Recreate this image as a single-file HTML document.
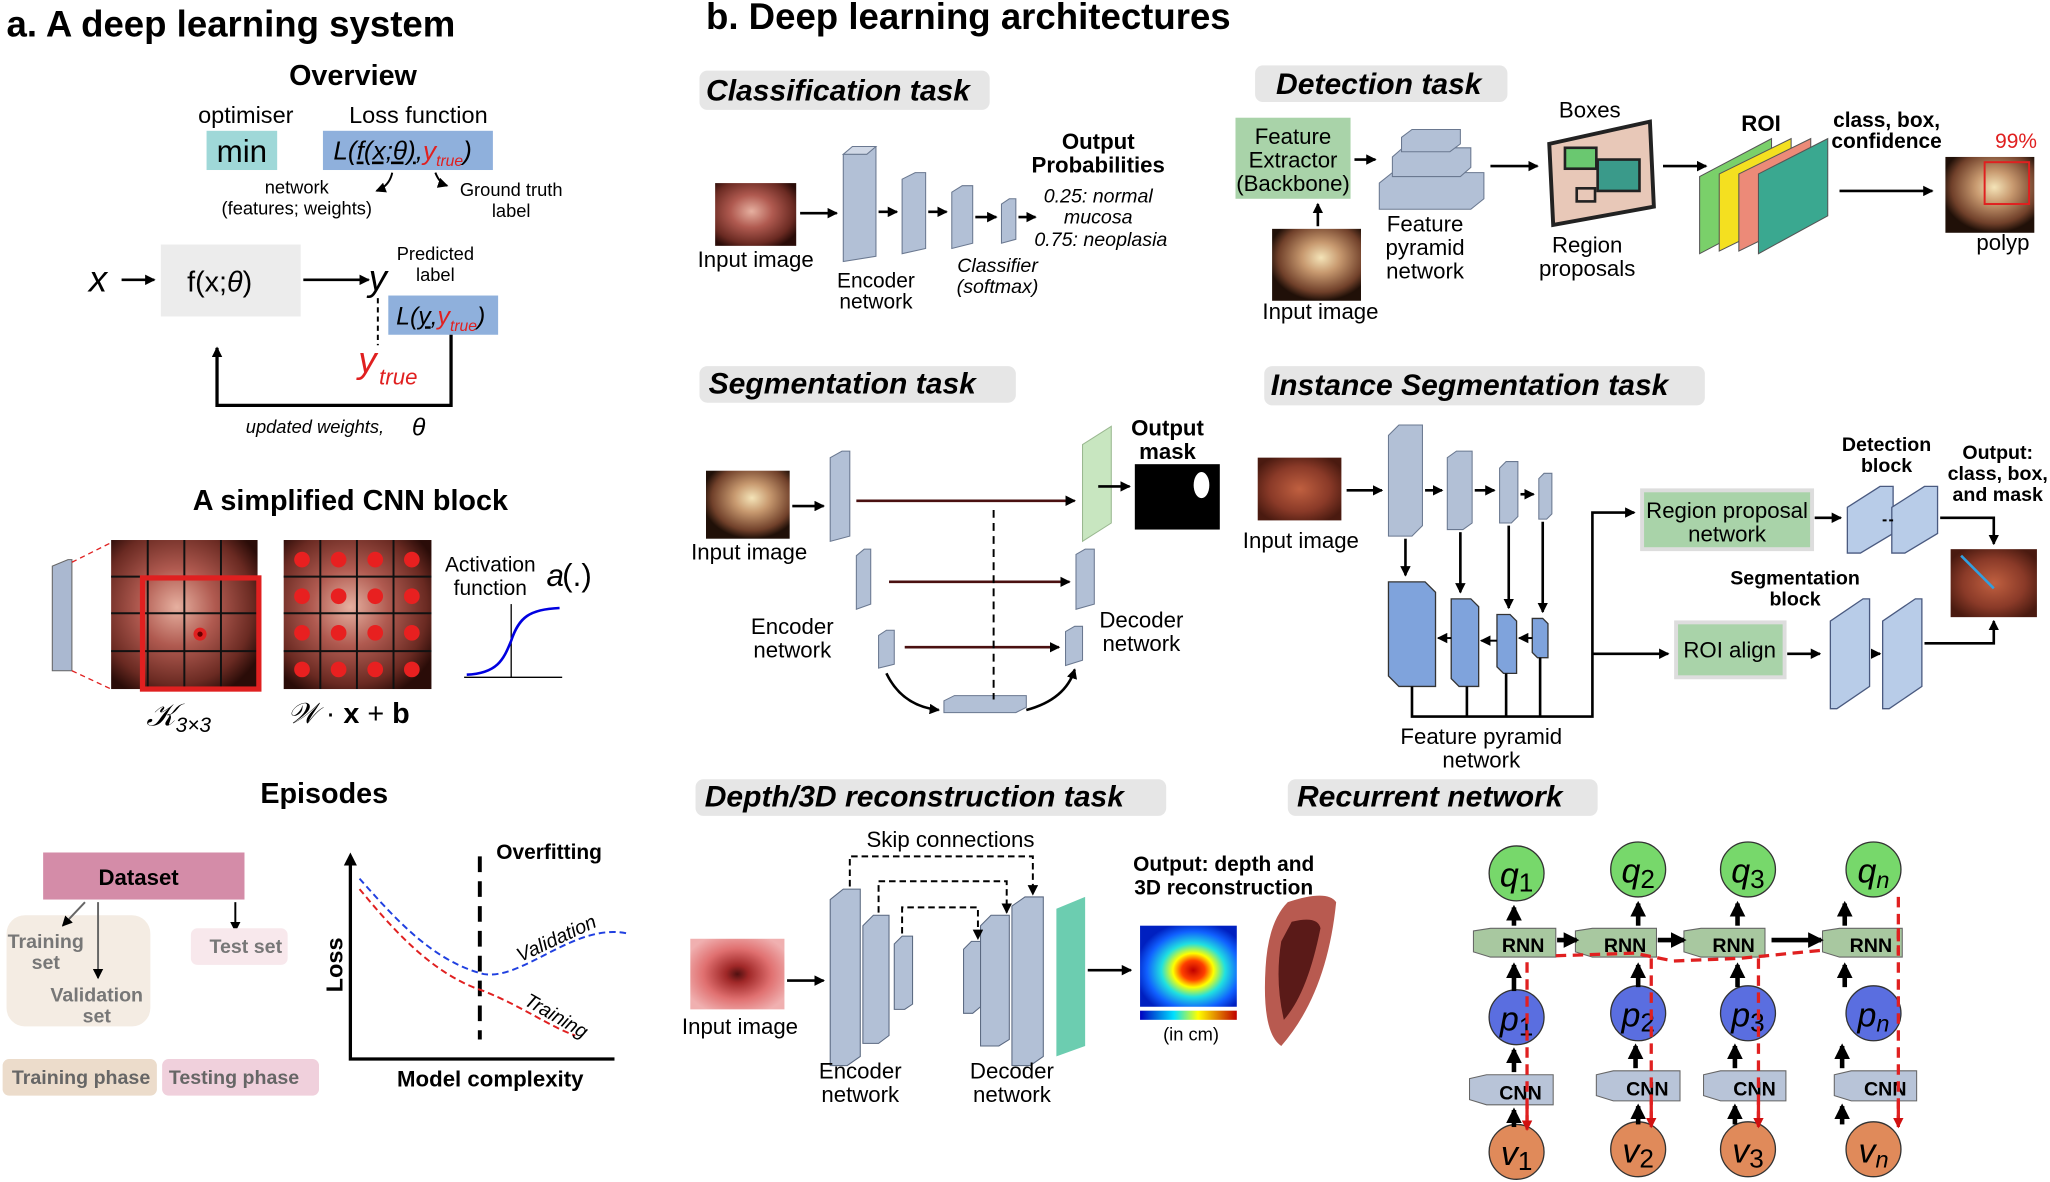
<!DOCTYPE html>
<html><head><meta charset="utf-8"><style>
html,body{margin:0;padding:0;background:#fff;width:2050px;height:1182px;overflow:hidden}
svg{display:block}
text{font-family:"Liberation Sans",sans-serif}
.b{font-weight:bold}
.lab{font-weight:bold;font-style:italic;font-size:23px}
.s{font-size:16px}
.m{font-size:17px}
</style></head><body>
<svg width="2050" height="1182" viewBox="0 0 1568 904" xmlns="http://www.w3.org/2000/svg">
<defs>
<marker id="ar" markerWidth="8" markerHeight="8" refX="7" refY="4" orient="auto" markerUnits="userSpaceOnUse"><path d="M0,0 L8,4 L0,8 z" fill="#000"/></marker>
<marker id="arr" markerWidth="8" markerHeight="8" refX="7" refY="4" orient="auto" markerUnits="userSpaceOnUse"><path d="M0,0 L8,4 L0,8 z" fill="#d01010"/></marker>
<marker id="ab" markerWidth="12" markerHeight="12" refX="10" refY="6" orient="auto" markerUnits="userSpaceOnUse"><path d="M0,0 L12,6 L0,12 z" fill="#000"/></marker>
<radialGradient id="endo" cx="45%" cy="45%" r="65%"><stop offset="0" stop-color="#e6b0a0"/><stop offset="0.4" stop-color="#b05a50"/><stop offset="0.8" stop-color="#6a2a22"/><stop offset="1" stop-color="#2a0c08"/></radialGradient>
<radialGradient id="endo2" cx="55%" cy="40%" r="60%"><stop offset="0" stop-color="#f4e4b8"/><stop offset="0.35" stop-color="#c89a70"/><stop offset="0.8" stop-color="#70402a"/><stop offset="1" stop-color="#201008"/></radialGradient>
<radialGradient id="endo3" cx="50%" cy="50%" r="60%"><stop offset="0" stop-color="#501010"/><stop offset="0.2" stop-color="#a02828"/><stop offset="0.6" stop-color="#e07070"/><stop offset="1" stop-color="#f0b0b0"/></radialGradient>
<radialGradient id="surg" cx="50%" cy="50%" r="60%"><stop offset="0" stop-color="#c06040"/><stop offset="0.6" stop-color="#8a3a28"/><stop offset="1" stop-color="#4a1a10"/></radialGradient>
<radialGradient id="depth" cx="55%" cy="55%" r="60%"><stop offset="0" stop-color="#c00000"/><stop offset="0.2" stop-color="#ff4000"/><stop offset="0.35" stop-color="#ffff00"/><stop offset="0.55" stop-color="#20e0e0"/><stop offset="0.8" stop-color="#1060ff"/><stop offset="1" stop-color="#0020c0"/></radialGradient>
<linearGradient id="cbar" x1="0" x2="1"><stop offset="0" stop-color="#0000c0"/><stop offset="0.35" stop-color="#00e0ff"/><stop offset="0.6" stop-color="#ffff00"/><stop offset="1" stop-color="#c00000"/></linearGradient>
</defs>

<!-- ===== Panel a ===== -->
<text x="5" y="28" class="b" font-size="28">a. A deep learning system</text>
<text x="270" y="65" class="b" font-size="22" text-anchor="middle">Overview</text>
<text x="188" y="94" font-size="18" text-anchor="middle">optimiser</text>
<text x="320" y="94" font-size="18" text-anchor="middle">Loss function</text>
<rect x="158" y="100" width="54" height="30" fill="#9fd8d8"/>
<text x="185" y="124" font-size="24" text-anchor="middle">min</text>
<rect x="247" y="100" width="130" height="30" fill="#8fb0dc"/>
<text x="255" y="122" font-size="20" font-style="italic">L(<tspan text-decoration="underline">f(x;θ)</tspan>,<tspan fill="#e02020">y</tspan><tspan fill="#e02020" font-size="12" dy="5">true</tspan><tspan dy="-5">)</tspan></text>
<path d="M300,132 Q298,142 288,146" fill="none" stroke="#000" stroke-width="1.5" marker-end="url(#ar)"/>
<path d="M333,132 Q336,140 342,142" fill="none" stroke="#000" stroke-width="1.5" marker-end="url(#ar)"/>
<text x="227" y="148" font-size="14" text-anchor="middle">network</text>
<text x="227" y="164" font-size="14" text-anchor="middle">(features; weights)</text>
<text x="391" y="150" font-size="14" text-anchor="middle">Ground truth</text>
<text x="391" y="166" font-size="14" text-anchor="middle">label</text>
<text x="68" y="223" font-size="28" font-style="italic">x</text>
<line x1="93" y1="214" x2="118" y2="214" stroke="#000" stroke-width="2" marker-end="url(#ar)"/>
<rect x="123" y="187" width="107" height="55" fill="#ececec"/>
<text x="168" y="223" font-size="22" text-anchor="middle">f(x;<tspan font-style="italic">θ</tspan>)</text>
<line x1="232" y1="214" x2="282" y2="214" stroke="#000" stroke-width="2" marker-end="url(#ar)"/>
<text x="282" y="222" font-size="28" font-style="italic">y</text>
<text x="333" y="199" font-size="14" text-anchor="middle">Predicted</text>
<text x="333" y="215" font-size="14" text-anchor="middle">label</text>
<rect x="297" y="226" width="84" height="30" fill="#8fb0dc"/>
<text x="303" y="248" font-size="19" font-style="italic">L(<tspan text-decoration="underline">y</tspan>,<tspan fill="#e02020">y</tspan><tspan fill="#e02020" font-size="12" dy="5">true</tspan><tspan dy="-5">)</tspan></text>
<line x1="289" y1="228" x2="289" y2="264" stroke="#000" stroke-width="1.5" stroke-dasharray="4,3"/>
<text x="274" y="285" font-size="28" font-style="italic" fill="#e02020">y</text>
<text x="290" y="294" font-size="17" font-style="italic" fill="#e02020">true</text>
<polyline points="345,256 345,310 166,310 166,266" fill="none" stroke="#000" stroke-width="2.5" marker-end="url(#ar)"/>
<text x="188" y="331" font-size="14" font-style="italic">updated weights,</text>
<text x="315" y="333" font-size="19" font-style="italic">θ</text>

<!-- CNN block -->
<text x="268" y="390" class="b" font-size="22" text-anchor="middle">A simplified CNN block</text>
<polygon points="40,433 52,428 55,428 55,513 40,513" fill="#aab8d0" stroke="#666" stroke-width="0.8"/>
<line x1="55" y1="430" x2="85" y2="415" stroke="#e02020" stroke-dasharray="4,3"/>
<line x1="55" y1="513" x2="85" y2="527" stroke="#e02020" stroke-dasharray="4,3"/>
<rect x="85" y="413" width="112" height="114" fill="url(#endo)"/>
<g stroke="#111" stroke-width="1.5">
<line x1="113" y1="413" x2="113" y2="527"/><line x1="141" y1="413" x2="141" y2="527"/><line x1="169" y1="413" x2="169" y2="527"/>
<line x1="85" y1="441" x2="197" y2="441"/><line x1="85" y1="469" x2="197" y2="469"/><line x1="85" y1="498" x2="197" y2="498"/>
</g>
<rect x="109" y="442" width="89" height="85" fill="none" stroke="#e02020" stroke-width="4"/>
<circle cx="153" cy="485" r="5" fill="#e02020"/><circle cx="153" cy="485" r="2" fill="#600"/>
<rect x="217" y="413" width="113" height="114" fill="url(#endo)"/>
<g stroke="#111" stroke-width="1.5">
<line x1="245" y1="413" x2="245" y2="527"/><line x1="273" y1="413" x2="273" y2="527"/><line x1="301" y1="413" x2="301" y2="527"/>
<line x1="217" y1="441" x2="330" y2="441"/><line x1="217" y1="469" x2="330" y2="469"/><line x1="217" y1="498" x2="330" y2="498"/>
</g>
<g fill="#e82020" stroke="#fff" stroke-width="0">
<circle cx="231" cy="428" r="6"/><circle cx="259" cy="428" r="6"/><circle cx="287" cy="428" r="6"/><circle cx="315" cy="428" r="6"/>
<circle cx="231" cy="456" r="6"/><circle cx="259" cy="456" r="6"/><circle cx="287" cy="456" r="6"/><circle cx="315" cy="456" r="6"/>
<circle cx="231" cy="484" r="6"/><circle cx="259" cy="484" r="6"/><circle cx="287" cy="484" r="6"/><circle cx="315" cy="484" r="6"/>
<circle cx="231" cy="512" r="6"/><circle cx="259" cy="512" r="6"/><circle cx="287" cy="512" r="6"/><circle cx="315" cy="512" r="6"/>
</g>
<text x="375" y="437" font-size="16" text-anchor="middle">Activation</text>
<text x="375" y="455" font-size="16" text-anchor="middle">function</text>
<text x="418" y="448" font-size="24" font-family="Liberation Serif" font-style="italic">a</text>
<text x="430" y="448" font-size="24" font-family="Liberation Serif">(.)</text>
<line x1="355" y1="518" x2="430" y2="518" stroke="#000"/>
<line x1="391" y1="462" x2="391" y2="518" stroke="#000"/>
<path d="M357,516 C380,515 385,505 391,490 C397,472 405,466 428,465" fill="none" stroke="#0000e0" stroke-width="2"/>
<text x="112" y="555" font-size="24" font-family="Liberation Serif" font-style="italic">𝒦<tspan font-size="16" dy="5">3×3</tspan></text>
<text x="220" y="553" font-size="22" font-family="Liberation Serif"><tspan font-style="italic">𝒲</tspan> · <tspan font-weight="bold">x</tspan> + <tspan font-weight="bold">b</tspan></text>

<!-- Episodes -->
<text x="248" y="614" class="b" font-size="22" text-anchor="middle">Episodes</text>
<rect x="5" y="700" width="110" height="85" rx="14" fill="#f4ece3"/>
<rect x="33" y="652" width="154" height="36" fill="#d48ca8"/>
<text x="106" y="677" class="b" font-size="17" text-anchor="middle">Dataset</text>
<line x1="65" y1="690" x2="48" y2="708" stroke="#666" stroke-width="1.5" marker-end="url(#ar)"/>
<line x1="75" y1="690" x2="75" y2="748" stroke="#666" stroke-width="1.5" marker-end="url(#ar)"/>
<line x1="180" y1="690" x2="180" y2="712" stroke="#000" stroke-width="1.5" marker-end="url(#ar)"/>
<text x="35" y="725" class="b" font-size="15" fill="#777" text-anchor="middle">Training</text>
<text x="35" y="741" class="b" font-size="15" fill="#777" text-anchor="middle">set</text>
<text x="74" y="766" class="b" font-size="15" fill="#777" text-anchor="middle">Validation</text>
<text x="74" y="782" class="b" font-size="15" fill="#777" text-anchor="middle">set</text>
<rect x="146" y="710" width="74" height="28" rx="5" fill="#f8e8ec"/>
<text x="188" y="729" class="b" font-size="15" fill="#777" text-anchor="middle">Test set</text>
<rect x="2" y="810" width="118" height="28" rx="5" fill="#ecdccb"/>
<text x="62" y="829" class="b" font-size="15" fill="#666" text-anchor="middle">Training phase</text>
<rect x="124" y="810" width="120" height="28" rx="5" fill="#f0d0dc"/>
<text x="179" y="829" class="b" font-size="15" fill="#666" text-anchor="middle">Testing phase</text>
<polyline points="268,657 268,810 470,810" fill="none" stroke="#000" stroke-width="2.5"/>
<polygon points="263,662 268,652 273,662" fill="#000"/>
<text transform="translate(262,738) rotate(-90)" class="b" font-size="18" text-anchor="middle">Loss</text>
<text x="375" y="831" class="b" font-size="17" text-anchor="middle">Model complexity</text>
<line x1="367" y1="655" x2="367" y2="795" stroke="#000" stroke-width="3" stroke-dasharray="12,7"/>
<text x="420" y="657" class="b" font-size="16" text-anchor="middle">Overfitting</text>
<path d="M275,672 C300,700 330,735 370,745 C400,750 440,705 480,714" fill="none" stroke="#2040e0" stroke-width="1.5" stroke-dasharray="5,3"/>
<path d="M275,680 C300,710 330,745 370,758 C400,770 420,785 440,792" fill="none" stroke="#e02020" stroke-width="1.5" stroke-dasharray="5,3"/>
<text transform="translate(398,736) rotate(-25)" font-size="15" font-style="italic">Validation</text>
<text transform="translate(400,768) rotate(30)" font-size="15" font-style="italic">Training</text>

<!-- ===== Panel b ===== -->
<text x="540" y="22" class="b" font-size="28">b. Deep learning architectures</text>

<!-- Classification -->
<rect x="535" y="54" width="222" height="30" rx="6" fill="#e6e6e6"/>
<text x="540" y="77" class="lab">Classification task</text>
<rect x="547" y="140" width="62" height="48" fill="url(#endo)"/>
<text x="578" y="204" class="m" text-anchor="middle">Input image</text>
<line x1="612" y1="163" x2="640" y2="163" stroke="#000" stroke-width="2" marker-end="url(#ar)"/>
<g fill="#b2c0d6" stroke="#6a7890" stroke-width="0.8">
<polygon points="645,118 663,112 670,112 670,196 645,200"/><polygon points="645,118 652,112 670,112 663,118" fill="#d0d8e6"/>
<polygon points="690,137 700,132 708,132 708,190 690,194"/>
<polygon points="728,147 736,142 744,142 744,186 728,190"/>
<polygon points="766,156 772,152 777,152 777,183 766,186"/>
</g>
<line x1="672" y1="162" x2="686" y2="162" stroke="#000" stroke-width="2" marker-end="url(#ar)"/>
<line x1="710" y1="162" x2="724" y2="162" stroke="#000" stroke-width="2" marker-end="url(#ar)"/>
<line x1="746" y1="166" x2="762" y2="166" stroke="#000" stroke-width="2" marker-end="url(#ar)"/>
<line x1="779" y1="166" x2="792" y2="166" stroke="#000" stroke-width="2" marker-end="url(#ar)"/>
<text x="670" y="220" class="s" text-anchor="middle">Encoder</text>
<text x="670" y="236" class="s" text-anchor="middle">network</text>
<text x="763" y="208" font-size="15" font-style="italic" text-anchor="middle">Classifier</text>
<text x="763" y="224" font-size="15" font-style="italic" text-anchor="middle">(softmax)</text>
<text x="840" y="114" class="b" font-size="17" text-anchor="middle">Output</text>
<text x="840" y="132" class="b" font-size="17" text-anchor="middle">Probabilities</text>
<text x="840" y="155" font-size="15" font-style="italic" text-anchor="middle">0.25: normal</text>
<text x="840" y="171" font-size="15" font-style="italic" text-anchor="middle">mucosa</text>
<text x="842" y="188" font-size="15" font-style="italic" text-anchor="middle">0.75: neoplasia</text>

<!-- Detection -->
<rect x="960" y="50" width="193" height="28" rx="6" fill="#e6e6e6"/>
<text x="976" y="72" class="lab">Detection task</text>
<rect x="945" y="90" width="88" height="62" fill="#a9d3a9"/>
<text x="989" y="110" class="m" text-anchor="middle">Feature</text>
<text x="989" y="128" class="m" text-anchor="middle">Extractor</text>
<text x="989" y="146" class="m" text-anchor="middle">(Backbone)</text>
<rect x="973" y="175" width="68" height="55" fill="url(#endo2)"/>
<text x="1010" y="244" class="m" text-anchor="middle">Input image</text>
<line x1="1008" y1="173" x2="1008" y2="156" stroke="#000" stroke-width="2" marker-end="url(#ar)"/>
<line x1="1036" y1="122" x2="1052" y2="122" stroke="#000" stroke-width="2" marker-end="url(#ar)"/>
<g fill="#b2c0d6" stroke="#6a7890" stroke-width="0.8">
<polygon points="1055,140 1065,132 1135,132 1135,152 1125,160 1055,160"/>
<polygon points="1065,120 1073,113 1125,113 1125,128 1117,135 1065,135"/>
<polygon points="1072,105 1080,99 1117,99 1117,110 1109,116 1072,116"/>
</g>
<text x="1090" y="177" class="m" text-anchor="middle">Feature</text>
<text x="1090" y="195" class="m" text-anchor="middle">pyramid</text>
<text x="1090" y="213" class="m" text-anchor="middle">network</text>
<line x1="1140" y1="127" x2="1176" y2="127" stroke="#000" stroke-width="2" marker-end="url(#ar)"/>
<text x="1216" y="90" class="m" text-anchor="middle">Boxes</text>
<polygon points="1185,110 1262,93 1265,158 1188,172" fill="#e8c8b8" stroke="#222" stroke-width="3"/>
<rect x="1197" y="113" width="24" height="16" fill="#6ac870" stroke="#222" stroke-width="2"/>
<rect x="1222" y="122" width="32" height="24" fill="#3a9a8a" stroke="#222" stroke-width="2"/>
<rect x="1206" y="144" width="14" height="10" fill="#e8c8b8" stroke="#222" stroke-width="2"/>
<text x="1214" y="193" class="m" text-anchor="middle">Region</text>
<text x="1214" y="211" class="m" text-anchor="middle">proposals</text>
<line x1="1272" y1="127" x2="1305" y2="127" stroke="#000" stroke-width="2" marker-end="url(#ar)"/>
<text x="1347" y="100" class="b" font-size="17" text-anchor="middle">ROI</text>
<polygon points="1300,135 1355,106 1355,165 1300,194" fill="#7ad06a" stroke="#555" stroke-width="0.8"/>
<polygon points="1315,133 1370,106 1370,165 1315,192" fill="#f4e020" stroke="#555" stroke-width="0.8"/>
<polygon points="1330,133 1385,106 1385,165 1330,192" fill="#ec8a78" stroke="#555" stroke-width="0.8"/>
<polygon points="1345,133 1398,106 1398,165 1345,194" fill="#3aa890" stroke="#555" stroke-width="0.8"/>
<line x1="1407" y1="146" x2="1478" y2="146" stroke="#000" stroke-width="2" marker-end="url(#ar)"/>
<text x="1443" y="97" class="b" font-size="16" text-anchor="middle">class, box,</text>
<text x="1443" y="113" class="b" font-size="16" text-anchor="middle">confidence</text>
<text x="1542" y="113" font-size="16" fill="#e02020" text-anchor="middle">99%</text>
<rect x="1488" y="120" width="68" height="58" fill="url(#endo2)"/>
<rect x="1518" y="124" width="34" height="32" fill="none" stroke="#e02020" stroke-width="1.5"/>
<text x="1532" y="191" class="m" text-anchor="middle">polyp</text>

<!-- Segmentation -->
<rect x="535" y="280" width="242" height="28" rx="6" fill="#e6e6e6"/>
<text x="542" y="301" class="lab">Segmentation task</text>
<rect x="540" y="360" width="64" height="52" fill="url(#endo2)"/>
<text x="573" y="428" class="m" text-anchor="middle">Input image</text>
<line x1="606" y1="387" x2="630" y2="387" stroke="#000" stroke-width="2" marker-end="url(#ar)"/>
<g fill="#b2c0d6" stroke="#6a7890" stroke-width="0.8">
<polygon points="635,350 644,345 650,345 650,410 635,414"/>
<polygon points="655,425 661,420 666,420 666,462 655,466"/>
<polygon points="672,486 678,482 684,482 684,508 672,511"/>
<polygon points="823,424 830,420 837,420 837,462 823,466"/>
<polygon points="815,483 822,479 828,479 828,505 815,509"/>
<polygon points="722,536 730,532 785,532 785,541 777,545 722,545"/>
</g>
<polygon points="828,340 850,326 850,400 828,414" fill="#c8e6c0" stroke="#9ab890" stroke-width="0.8"/>
<line x1="655" y1="383" x2="822" y2="383" stroke="#4a1010" stroke-width="2" marker-end="url(#ar)"/>
<line x1="680" y1="445" x2="818" y2="445" stroke="#4a1010" stroke-width="2" marker-end="url(#ar)"/>
<line x1="692" y1="495" x2="810" y2="495" stroke="#4a1010" stroke-width="2" marker-end="url(#ar)"/>
<line x1="760" y1="390" x2="760" y2="535" stroke="#000" stroke-width="1.5" stroke-dasharray="6,4"/>
<path d="M678,515 Q690,540 718,543" fill="none" stroke="#000" stroke-width="2" marker-end="url(#ar)"/>
<path d="M785,543 Q815,535 822,512" fill="none" stroke="#000" stroke-width="2" marker-end="url(#ar)"/>
<line x1="840" y1="372" x2="864" y2="372" stroke="#000" stroke-width="2" marker-end="url(#ar)"/>
<text x="893" y="333" class="b" font-size="17" text-anchor="middle">Output</text>
<text x="893" y="351" class="b" font-size="17" text-anchor="middle">mask</text>
<rect x="868" y="355" width="65" height="50" fill="#000"/>
<ellipse cx="919" cy="371" rx="6" ry="10" fill="#fff"/>
<text x="606" y="485" class="m" text-anchor="middle">Encoder</text>
<text x="606" y="503" class="m" text-anchor="middle">network</text>
<text x="873" y="480" class="m" text-anchor="middle">Decoder</text>
<text x="873" y="498" class="m" text-anchor="middle">network</text>

<!-- Instance segmentation -->
<rect x="967" y="280" width="337" height="30" rx="6" fill="#e6e6e6"/>
<text x="972" y="302" class="lab">Instance Segmentation task</text>
<rect x="962" y="350" width="64" height="48" fill="url(#surg)"/>
<text x="995" y="419" class="m" text-anchor="middle">Input image</text>
<line x1="1030" y1="375" x2="1057" y2="375" stroke="#000" stroke-width="2" marker-end="url(#ar)"/>
<g fill="#b2c0d6" stroke="#6a7890" stroke-width="0.8">
<polygon points="1062,333 1070,325 1088,325 1088,402 1080,410 1062,410"/>
<polygon points="1107,350 1114,345 1126,345 1126,400 1119,405 1107,405"/>
<polygon points="1147,358 1152,353 1161,353 1161,395 1156,400 1147,400"/>
<polygon points="1177,366 1181,362 1187,362 1187,393 1183,397 1177,397"/>
</g>
<line x1="1090" y1="375" x2="1103" y2="375" stroke="#000" stroke-width="2" marker-end="url(#ar)"/>
<line x1="1128" y1="375" x2="1143" y2="375" stroke="#000" stroke-width="2" marker-end="url(#ar)"/>
<line x1="1163" y1="378" x2="1173" y2="378" stroke="#000" stroke-width="2" marker-end="url(#ar)"/>
<g fill="#7fa3dc" stroke="#333" stroke-width="1">
<polygon points="1062,445 1090,445 1098,453 1098,525 1070,525 1062,517"/>
<polygon points="1110,458 1125,458 1131,464 1131,525 1116,525 1110,519"/>
<polygon points="1145,470 1155,470 1160,475 1160,515 1150,515 1145,510"/>
<polygon points="1172,473 1180,473 1184,477 1184,503 1176,503 1172,499"/>
</g>
<line x1="1075" y1="412" x2="1075" y2="440" stroke="#000" stroke-width="2" marker-end="url(#ar)"/>
<line x1="1117" y1="407" x2="1117" y2="453" stroke="#000" stroke-width="2" marker-end="url(#ar)"/>
<line x1="1154" y1="402" x2="1154" y2="465" stroke="#000" stroke-width="2" marker-end="url(#ar)"/>
<line x1="1180" y1="399" x2="1180" y2="468" stroke="#000" stroke-width="2" marker-end="url(#ar)"/>
<line x1="1110" y1="488" x2="1100" y2="488" stroke="#000" stroke-width="1.5" marker-end="url(#ar)"/>
<line x1="1145" y1="490" x2="1133" y2="490" stroke="#000" stroke-width="1.5" marker-end="url(#ar)"/>
<line x1="1172" y1="488" x2="1162" y2="488" stroke="#000" stroke-width="1.5" marker-end="url(#ar)"/>
<polyline points="1080,525 1080,548 1218,548 1218,392 1250,392" fill="none" stroke="#000" stroke-width="2" marker-end="url(#ar)"/>
<polyline points="1122,525 1122,548" fill="none" stroke="#000" stroke-width="2"/>
<polyline points="1152,515 1152,548" fill="none" stroke="#000" stroke-width="2"/>
<polyline points="1178,503 1178,548" fill="none" stroke="#000" stroke-width="2"/>
<line x1="1218" y1="500" x2="1276" y2="500" stroke="#000" stroke-width="2" marker-end="url(#ar)"/>
<text x="1133" y="569" class="m" text-anchor="middle">Feature pyramid</text>
<text x="1133" y="587" class="m" text-anchor="middle">network</text>
<rect x="1256" y="375" width="130" height="45" fill="#a9d3a9" stroke="#ddd" stroke-width="3"/>
<text x="1321" y="396" class="m" text-anchor="middle">Region proposal</text>
<text x="1321" y="414" class="m" text-anchor="middle">network</text>
<line x1="1388" y1="396" x2="1408" y2="396" stroke="#000" stroke-width="2" marker-end="url(#ar)"/>
<text x="1443" y="345" class="b" font-size="15" text-anchor="middle">Detection</text>
<text x="1443" y="361" class="b" font-size="15" text-anchor="middle">block</text>
<g fill="#b8cce8" stroke="#4a5a80" stroke-width="1">
<polygon points="1413,388 1438,372 1448,372 1448,408 1423,423 1413,423"/>
<polygon points="1447,388 1472,372 1482,372 1482,408 1457,423 1447,423"/>
</g>
<line x1="1440" y1="398" x2="1450" y2="398" stroke="#000" stroke-width="1.5" stroke-dasharray="3,2"/>
<polyline points="1484,396 1525,396 1525,416" fill="none" stroke="#000" stroke-width="2" marker-end="url(#ar)"/>
<text x="1528" y="351" class="b" font-size="15" text-anchor="middle">Output:</text>
<text x="1528" y="367" class="b" font-size="15" text-anchor="middle">class, box,</text>
<text x="1528" y="383" class="b" font-size="15" text-anchor="middle">and mask</text>
<rect x="1492" y="420" width="66" height="52" fill="url(#surg)"/>
<line x1="1500" y1="425" x2="1525" y2="450" stroke="#30a0e0" stroke-width="2"/>
<rect x="1282" y="476" width="83" height="42" fill="#a9d3a9" stroke="#ddd" stroke-width="3"/>
<text x="1323" y="503" class="m" text-anchor="middle">ROI align</text>
<line x1="1367" y1="500" x2="1392" y2="500" stroke="#000" stroke-width="2" marker-end="url(#ar)"/>
<text x="1373" y="447" class="b" font-size="15" text-anchor="middle">Segmentation</text>
<text x="1373" y="463" class="b" font-size="15" text-anchor="middle">block</text>
<g fill="#b8cce8" stroke="#4a5a80" stroke-width="1">
<polygon points="1400,475 1425,458 1430,458 1430,525 1405,542 1400,542"/>
<polygon points="1440,475 1465,458 1470,458 1470,525 1445,542 1440,542"/>
</g>
<line x1="1432" y1="500" x2="1438" y2="500" stroke="#000" stroke-width="2" marker-end="url(#ar)"/>
<polyline points="1472,492 1525,492 1525,475" fill="none" stroke="#000" stroke-width="2" marker-end="url(#ar)"/>

<!-- Depth -->
<rect x="532" y="596" width="360" height="28" rx="6" fill="#e6e6e6"/>
<text x="539" y="617" class="lab">Depth/3D reconstruction task</text>
<rect x="528" y="718" width="72" height="54" fill="url(#endo3)"/>
<text x="566" y="791" class="m" text-anchor="middle">Input image</text>
<line x1="602" y1="750" x2="630" y2="750" stroke="#000" stroke-width="2" marker-end="url(#ar)"/>
<g fill="#b2c0d6" stroke="#5a6880" stroke-width="0.8">
<polygon points="635,688 645,680 658,680 658,808 648,815 635,815"/>
<polygon points="660,708 668,700 680,700 680,792 672,798 660,798"/>
<polygon points="684,722 690,716 698,716 698,768 692,772 684,772"/>
<polygon points="737,726 743,720 750,720 750,770 744,775 737,775"/>
<polygon points="750,708 758,700 772,700 772,795 764,800 750,800"/>
<polygon points="774,693 784,686 798,686 798,808 788,815 774,815"/>
</g>
<polygon points="808,695 830,686 830,800 808,808" fill="#6ccdb0"/>
<polyline points="650,678 650,655 790,655 790,684" fill="none" stroke="#000" stroke-width="1.5" stroke-dasharray="5,3" marker-end="url(#ar)"/>
<polyline points="672,698 672,674 770,674 770,698" fill="none" stroke="#000" stroke-width="1.5" stroke-dasharray="5,3" marker-end="url(#ar)"/>
<polyline points="690,714 690,694 748,694 748,718" fill="none" stroke="#000" stroke-width="1.5" stroke-dasharray="5,3" marker-end="url(#ar)"/>
<text x="727" y="648" class="m" text-anchor="middle">Skip connections</text>
<line x1="832" y1="742" x2="865" y2="742" stroke="#000" stroke-width="2" marker-end="url(#ar)"/>
<text x="658" y="825" class="m" text-anchor="middle">Encoder</text>
<text x="658" y="843" class="m" text-anchor="middle">network</text>
<text x="774" y="825" class="m" text-anchor="middle">Decoder</text>
<text x="774" y="843" class="m" text-anchor="middle">network</text>
<text x="936" y="666" class="b" font-size="16" text-anchor="middle">Output: depth and</text>
<text x="936" y="684" class="b" font-size="16" text-anchor="middle">3D reconstruction</text>
<rect x="872" y="708" width="74" height="62" fill="url(#depth)"/>
<rect x="872" y="773" width="74" height="7" fill="url(#cbar)"/>
<text x="911" y="796" font-size="14" text-anchor="middle">(in cm)</text>
<path d="M985,690 Q1015,680 1022,690 Q1015,760 980,800 Q965,790 968,740 Q970,705 985,690 z" fill="#b85a50"/>
<path d="M988,705 Q1008,700 1010,710 Q1000,760 982,780 Q975,750 980,720 z" fill="#5a1a18"/>

<!-- Recurrent -->
<rect x="985" y="596" width="237" height="28" rx="6" fill="#e6e6e6"/>
<text x="992" y="617" class="lab">Recurrent network</text>
<g font-family="Liberation Serif" font-style="italic" font-size="26" text-anchor="middle">
<g>
<circle cx="1160" cy="668" r="21" fill="#77d86b" stroke="#333"/><text x="1160" y="678">q<tspan font-style="normal" font-size="20" dy="4">1</tspan></text>
<circle cx="1160" cy="778" r="21" fill="#5a6ee0" stroke="#333"/><text x="1160" y="788">p<tspan font-style="normal" font-size="20" dy="4">1</tspan></text>
<circle cx="1160" cy="881" r="21" fill="#e08a5a" stroke="#333"/><text x="1160" y="891">v<tspan font-style="normal" font-size="20" dy="4">1</tspan></text>
</g>
<g>
<circle cx="1253" cy="665" r="21" fill="#77d86b" stroke="#333"/><text x="1253" y="675">q<tspan font-style="normal" font-size="20" dy="4">2</tspan></text>
<circle cx="1253" cy="775" r="21" fill="#5a6ee0" stroke="#333"/><text x="1253" y="785">p<tspan font-style="normal" font-size="20" dy="4">2</tspan></text>
<circle cx="1253" cy="879" r="21" fill="#e08a5a" stroke="#333"/><text x="1253" y="889">v<tspan font-style="normal" font-size="20" dy="4">2</tspan></text>
</g>
<g>
<circle cx="1337" cy="665" r="21" fill="#77d86b" stroke="#333"/><text x="1337" y="675">q<tspan font-style="normal" font-size="20" dy="4">3</tspan></text>
<circle cx="1337" cy="775" r="21" fill="#5a6ee0" stroke="#333"/><text x="1337" y="785">p<tspan font-style="normal" font-size="20" dy="4">3</tspan></text>
<circle cx="1337" cy="879" r="21" fill="#e08a5a" stroke="#333"/><text x="1337" y="889">v<tspan font-style="normal" font-size="20" dy="4">3</tspan></text>
</g>
<g>
<circle cx="1433" cy="665" r="21" fill="#77d86b" stroke="#333"/><text x="1433" y="675">q<tspan font-size="18" dy="4">n</tspan></text>
<circle cx="1433" cy="775" r="21" fill="#5a6ee0" stroke="#333"/><text x="1433" y="785">p<tspan font-size="18" dy="4">n</tspan></text>
<circle cx="1433" cy="879" r="21" fill="#e08a5a" stroke="#333"/><text x="1433" y="889">v<tspan font-size="18" dy="4">n</tspan></text>
</g>
</g>
<g font-size="15" font-weight="bold" text-anchor="middle">
<g fill="#a8c8a0" stroke="#666" stroke-width="0.8">
<polygon points="1127,712 1140,710 1190,710 1190,732 1140,732 1127,728"/>
<polygon points="1205,712 1218,710 1267,710 1267,732 1218,732 1205,728"/>
<polygon points="1288,712 1301,710 1350,710 1350,732 1301,732 1288,728"/>
<polygon points="1394,712 1407,710 1455,710 1455,732 1407,732 1394,728"/>
</g>
<text x="1165" y="728">RNN</text><text x="1243" y="728">RNN</text><text x="1326" y="728">RNN</text><text x="1431" y="728">RNN</text>
<g fill="#b8c4d8" stroke="#666" stroke-width="0.8">
<polygon points="1124,825 1137,822 1188,822 1188,845 1137,845 1124,841"/>
<polygon points="1221,822 1234,819 1285,819 1285,842 1234,842 1221,838"/>
<polygon points="1303,822 1316,819 1366,819 1366,842 1316,842 1303,838"/>
<polygon points="1403,822 1416,819 1466,819 1466,842 1416,842 1403,838"/>
</g>
<text x="1163" y="841">CNN</text><text x="1260" y="838">CNN</text><text x="1342" y="838">CNN</text><text x="1442" y="838">CNN</text>
</g>
<g stroke="#000" stroke-width="3.5">
<line x1="1158" y1="708" x2="1158" y2="694" marker-end="url(#ab)"/>
<line x1="1158" y1="758" x2="1158" y2="738" marker-end="url(#ab)"/>
<line x1="1158" y1="820" x2="1158" y2="803" marker-end="url(#ab)"/>
<line x1="1158" y1="862" x2="1158" y2="849" marker-end="url(#ab)"/>
<line x1="1253" y1="708" x2="1253" y2="691" marker-end="url(#ab)"/>
<line x1="1253" y1="755" x2="1253" y2="738" marker-end="url(#ab)"/>
<line x1="1251" y1="817" x2="1251" y2="800" marker-end="url(#ab)"/>
<line x1="1253" y1="860" x2="1253" y2="846" marker-end="url(#ab)"/>
<line x1="1329" y1="708" x2="1329" y2="691" marker-end="url(#ab)"/>
<line x1="1329" y1="755" x2="1329" y2="738" marker-end="url(#ab)"/>
<line x1="1327" y1="817" x2="1327" y2="800" marker-end="url(#ab)"/>
<line x1="1327" y1="860" x2="1327" y2="846" marker-end="url(#ab)"/>
<line x1="1411" y1="708" x2="1411" y2="691" marker-end="url(#ab)"/>
<line x1="1411" y1="755" x2="1411" y2="738" marker-end="url(#ab)"/>
<line x1="1409" y1="817" x2="1409" y2="800" marker-end="url(#ab)"/>
<line x1="1409" y1="860" x2="1409" y2="846" marker-end="url(#ab)"/>
<line x1="1191" y1="719" x2="1206" y2="719" marker-end="url(#ab)"/>
<line x1="1268" y1="719" x2="1288" y2="719" marker-end="url(#ab)"/>
<line x1="1355" y1="719" x2="1393" y2="719" marker-end="url(#ab)"/>
</g>
<g stroke="#e02020" stroke-width="2.5" stroke-dasharray="8,5" fill="none">
<polyline points="1452,686 1452,730"/>
<polyline points="1452,710 1452,858"/>
<polyline points="1392,727 1330,733 1280,735 1250,729 1190,731"/>
<polyline points="1168,736 1168,860"/>
<polyline points="1263,733 1263,860"/>
<polyline points="1345,733 1345,860"/>
</g>
<g stroke="#e02020" stroke-width="2.5">
<line x1="1168" y1="845" x2="1168" y2="864" marker-end="url(#arr)"/>
<line x1="1263" y1="842" x2="1263" y2="862" marker-end="url(#arr)"/>
<line x1="1345" y1="842" x2="1345" y2="862" marker-end="url(#arr)"/>
<line x1="1452" y1="842" x2="1452" y2="862" marker-end="url(#arr)"/>
</g>
</svg>
</body></html>
